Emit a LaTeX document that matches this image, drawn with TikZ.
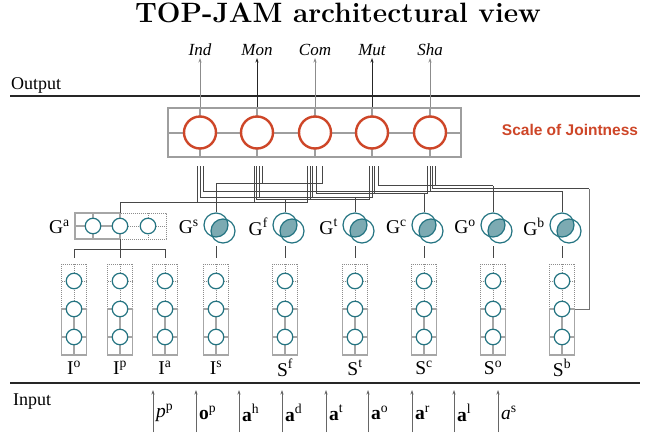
\documentclass[tikz,border=0pt]{standalone}
\usepackage{fontspec}
\newfontfamily\tms{Liberation Serif}
\newfontfamily\hlv{Liberation Sans}
\usetikzlibrary{arrows.meta}
\definecolor{jred}{RGB}{206,70,40}
\definecolor{teal1}{RGB}{36,116,130}
\definecolor{tealf}{RGB}{124,170,178}
\begin{document}
\begin{tikzpicture}[x=1pt,y=-1pt,
  wire/.style={draw=black!72, line width=0.7pt},
  gline/.style={draw=black!35, line width=1.2pt},
  gdot/.style={draw=black!45, line width=0.8pt, dash pattern=on 0.8pt off 1.2pt},
  tcirc/.style={circle, draw=teal1, line width=1.2pt, fill=white, minimum size=15.5pt, inner sep=0pt},
  vcirc/.style={circle, draw=teal1, line width=1.2pt, minimum size=24pt, inner sep=0pt},
  rcirc/.style={circle, draw=jred, line width=2.4pt, fill=white, minimum size=32pt, inner sep=0pt},
  tlab/.style={font=\tms\fontsize{19.5}{19.5}\selectfont, inner sep=1pt},
  olab/.style={font=\tms\itshape\fontsize{17}{17}\selectfont, inner sep=2pt, anchor=south},
  ilab/.style={font=\tms\fontsize{19.5}{19.5}\selectfont, inner sep=0pt, anchor=west},
  arr/.style={-{Stealth[length=4.5pt,width=3pt]}, line width=0.7pt},
]
\fill[white] (0,0) rectangle (664,437);
\useasboundingbox (0,0) rectangle (664,437);

% title
\node[font=\bfseries\fontsize{28}{28}\selectfont] (title) at (338,13) {TOP-JAM architectural view};

% output / input bands
\draw[line width=1.8pt, black!85] (10,96) -- (640,96);
\node[font=\tms\fontsize{18}{18}\selectfont, anchor=base west, inner sep=0] (outlab) at (11,89) {Output};
\draw[line width=1.8pt, black!85] (10,383) -- (640,383);
\node[font=\tms\fontsize{18}{18}\selectfont, anchor=base west, inner sep=0] (inlab) at (13,405) {Input};

% scale of jointness box
\draw[draw=black!38, line width=2pt] (168,132.5) -- (461,132.5);
\foreach \x in {200,257,315,372,430} \draw[draw=black!38, line width=2pt] (\x,108) -- (\x,157);
\node[draw=black!38, line width=2.8pt, minimum width=293pt, minimum height=49pt, inner sep=0pt] (scalebox) at (314.5,132.5) {};
\foreach \n/\x/\c in {Ind/200/45, Mon/257/85, Com/315/45, Mut/372/85, Sha/430/45} {
  \node[rcirc] (r\n) at (\x,132.5) {};
  \node[olab] (o\n) at (\x,58) {\n};
  \draw[arr, black!\c] (r\n.north |- scalebox.north) -- (o\n);
}
\node[font=\hlv\bfseries\fontsize{15.5}{15.5}\selectfont, text=jred] (soj) at (570,130) {Scale of Jointness};

% bus levels
\foreach \s/\x/\y in {a/120/202, f/285/199.5, t/355/197, c/424/193.5, b/562/191, Sb/589/188.5, o/493/185.5, s/216/183}
  \coordinate (bus-\s) at (\x,\y);

% wires from the scale
\foreach \x/\s in {197.5/a,200/t,203.5/b, 254.3/a,256.7/f,259/t,262.3/s, 307.7/a,310/f,312.7/t,316.7/c,322/s, 369.3/f,372/t,374.3/c,378.3/o, 427.7/c,430/b,432.7/Sb,435.3/o} {
  \coordinate (w) at (\x,166);
  \draw[wire] (w) |- (bus-\s);
}

% G^a group box
\draw[gdot] (120,213) rectangle (166,239);
\draw[gdot] (120,226) -- (166,226);
\draw[gdot] (148,213) -- (148,239);
\draw[gline] (75,213) rectangle (120,239);
\draw[gline] (75,226) -- (120,226);
\draw[gline] (93,213) -- (93,239);
\node[tcirc] (Ga1) at (93,226) {};
\node[tcirc] (Ga2) at (120,226) {};
\node[tcirc] (Ga3) at (148,226) {};
\node[tlab, anchor=east] (GLa) at (71,227) {G\textsuperscript{a}};
\coordinate (Gatop) at (120,213);
\draw[wire] (Gatop) -- (bus-a);
\coordinate (Gabot) at (120,239);
\coordinate (brm) at (120,258);
\draw[wire] (Gabot) -- (brm);
\draw[wire] (74,258) -- (74,249) -- (165,249) -- (165,258);

% Venn G nodes
\foreach \n/\x in {s/216,f/285,t/355,c/424,o/493,b/562} {
  \begin{scope}
    \clip (\x,225) circle (12);
    \fill[tealf] (\x+7,231) circle (12);
  \end{scope}
  \node[vcirc] (G\n1) at (\x,225) {};
  \node[vcirc] (G\n2) at (\x+7,231) {};
  \node[tlab, anchor=east] (GL\n) at (\x-16,227) {G\textsuperscript{\n}};
  \draw[wire] (G\n1.north) -- (bus-\n);
  \coordinate (gd\n) at (\x,246);
  \coordinate (gc\n) at (\x,258);
  \draw[wire] (gd\n) -- (gc\n);
}

% columns
\foreach \n/\x/\lab in {Io/74/{I\textsuperscript{o}}, Ip/120/{I\textsuperscript{p}}, Ia/165/{I\textsuperscript{a}}, Is/216/{I\textsuperscript{s}}, Sf/285/{S\textsuperscript{f}}, St/355/{S\textsuperscript{t}}, Sc/424/{S\textsuperscript{c}}, So/493/{S\textsuperscript{o}}, Sb/562/{S\textsuperscript{b}}} {
  \draw[gdot] (\x-12.5,264) rectangle (\x+12.5,309);
  \draw[gdot] (\x,264) -- (\x,309);
  \draw[gdot] (\x-12.5,281) -- (\x+12.5,281);
  \draw[gline] (\x-12.5,309) rectangle (\x+12.5,355);
  \draw[gline] (\x,309) -- (\x,355);
  \draw[gline] (\x-12.5,337) -- (\x+12.5,337);
  \node[tcirc] (\n1) at (\x,281) {};
  \node[tcirc] (\n2) at (\x,309) {};
  \node[tcirc] (\n3) at (\x,337) {};
  \node[tlab] (\n L) at (\x,368) {\lab};
}

% S^b feedback line
\coordinate (sbr) at (574.5,309);
\draw[wire, black!55] (sbr) -- (589,309) -- (bus-Sb);

% inputs
\foreach \i/\x/\t in {1/153/{{\itshape p}\textsuperscript{p}}, 2/196/{{\bfseries o}\textsuperscript{p}}, 3/239/{{\bfseries a}\textsuperscript{h}}, 4/282/{{\bfseries a}\textsuperscript{d}}, 5/326/{{\bfseries a}\textsuperscript{t}}, 6/368/{{\bfseries a}\textsuperscript{o}}, 7/412/{{\bfseries a}\textsuperscript{r}}, 8/454/{{\bfseries a}\textsuperscript{l}}, 9/498/{{\itshape a}\textsuperscript{s}}} {
  \coordinate (ib\i) at (\x,432);
  \coordinate (it\i) at (\x,390);
  \draw[arr, black!60] (ib\i) -- (it\i);
  \node[ilab] (il\i) at (\x+3,413) {\t};
}
\end{tikzpicture}
\end{document}
